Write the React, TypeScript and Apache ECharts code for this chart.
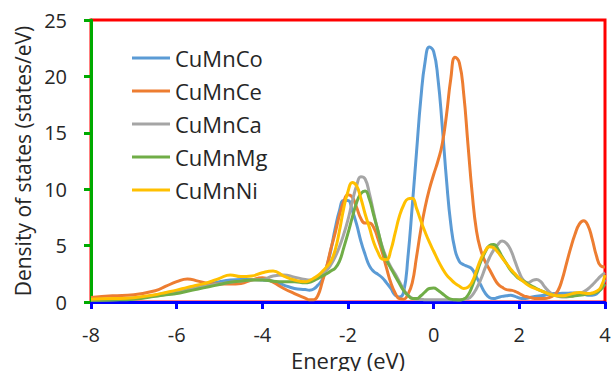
import React, { useEffect, useRef } from "react";
import * as echarts from "echarts";

const energy = [
  -8, -7.5, -7, -6.5, -6.25, -6, -5.75, -5.5, -5.25, -5, -4.75, -4.5, -4.25, -4, -3.75, -3.5, -3.25,
  -3.0, -2.9, -2.8, -2.7, -2.6, -2.5, -2.4, -2.3, -2.2, -2.1,
  -2.0, -1.9, -1.8, -1.7, -1.6, -1.5, -1.4, -1.3, -1.2, -1.1,
  -1.0, -0.9, -0.8, -0.7, -0.6, -0.5, -0.4, -0.3, -0.2, -0.1,
  0.0, 0.1, 0.2, 0.3, 0.4, 0.5, 0.6, 0.7, 0.8, 0.9,
  1.0, 1.1, 1.2, 1.3, 1.4, 1.5, 1.6, 1.7, 1.8, 1.9,
  2.0, 2.1, 2.2, 2.3, 2.4, 2.5, 2.6, 2.7, 2.8, 2.9,
  3.0, 3.1, 3.2, 3.3, 3.4, 3.5, 3.6, 3.7, 3.8, 3.9,
  4.0,
];

const dosCuMnCo = [
  0.2, 0.25, 0.35, 0.6, 0.8, 0.95, 1.15, 1.4, 1.6, 1.8, 1.95, 2.0, 2.0, 1.95, 1.85, 1.5, 1.2,
  1.1, 1.05, 1.15, 1.5, 2.0, 3.1, 4.6, 6.5, 8.1, 9.0,
  9.0, 8.1, 6.9, 5.4, 4.2, 3.2, 2.7, 2.45, 2.15, 1.7,
  1.2, 0.6, 0.45, 0.9, 4.0, 8.5, 13.3, 18.0, 21.3, 22.6,
  22.2, 19.8, 15.6, 10.8, 6.9, 4.6, 3.6, 3.3, 3.15, 2.9,
  2.2, 1.5, 0.8, 0.4, 0.3, 0.4, 0.5, 0.55, 0.6, 0.5,
  0.35, 0.3, 0.35, 0.45, 0.5, 0.55, 0.6, 0.7, 0.75, 0.75,
  0.77, 0.77, 0.8, 0.8, 0.77, 0.7, 0.6, 0.6, 0.7, 1.2,
  2.0,
];

const dosCuMnCe = [
  0.4, 0.55, 0.65, 1.0, 1.4, 1.8, 2.05, 1.85, 1.65, 1.6, 1.6, 1.65, 1.95, 2.15, 1.75, 1.2, 0.75,
  0.35, 0.2, 0.2, 0.6, 1.8, 3.1, 4.7, 6.1, 7.7, 8.9,
  9.5, 9.3, 8.4, 7.4, 7.0, 7.0, 6.6, 5.6, 4.4, 3.0,
  1.7, 0.8, 0.3, 0.25, 0.7, 1.7, 4.0, 6.4, 8.4, 10.0,
  11.3, 12.5, 14.0, 16.6, 19.8, 21.7, 21.2, 18.5, 14.0, 9.6,
  6.3, 4.6, 3.6, 2.9, 2.2, 1.6, 1.3, 1.1, 1.05, 0.95,
  0.75, 0.55, 0.45, 0.35, 0.3, 0.3, 0.3, 0.4, 0.6, 1.0,
  2.0, 3.4, 4.8, 6.0, 6.9, 7.2, 6.8, 5.6, 4.1, 3.2,
  3.1,
];

const dosCuMnCa = [
  0.15, 0.2, 0.3, 0.55, 0.7, 0.8, 1.05, 1.25, 1.45, 1.6, 1.75, 1.85, 1.95, 2.0, 2.3, 2.4, 2.2,
  2.0, 1.95, 2.0, 2.2, 2.5, 2.8, 3.3, 4.0, 4.9, 6.0,
  7.3, 8.9, 10.3, 11.1, 10.9, 9.6, 7.9, 6.3, 4.9, 3.9,
  3.1, 2.5, 1.8, 1.1, 0.6, 0.35, 0.25, 0.25, 0.2, 0.2,
  0.2, 0.2, 0.2, 0.2, 0.2, 0.2, 0.2, 0.25, 0.3, 0.6,
  1.2, 2.0, 3.0, 3.9, 4.6, 5.1, 5.4, 5.2, 4.6, 3.6,
  2.6, 1.9, 1.7, 1.9, 2.0, 1.8, 1.3, 0.9, 0.65, 0.5,
  0.45, 0.45, 0.5, 0.6, 0.75, 0.9, 1.15, 1.5, 1.9, 2.3,
  2.6,
];

const dosCuMnMg = [
  0.15, 0.18, 0.25, 0.5, 0.65, 0.75, 0.95, 1.15, 1.35, 1.55, 1.75, 1.85, 1.95, 1.95, 1.85, 1.8, 1.8,
  1.7, 1.75, 1.9, 2.1, 2.3, 2.5, 2.75, 3.0, 3.6, 4.8,
  6.1, 7.5, 8.8, 9.6, 9.85, 9.1, 7.7, 6.3, 4.8, 3.7,
  3.0, 2.3, 1.65, 1.0, 0.6, 0.3, 0.3, 0.55, 0.9, 1.2,
  1.25, 1.05, 0.75, 0.45, 0.25, 0.2, 0.18, 0.25, 0.6, 1.4,
  2.5, 3.6, 4.4, 5.0, 5.1, 4.7, 4.0, 3.4, 2.8, 2.4,
  2.05, 1.85, 1.6, 1.4, 1.2, 1.0, 0.85, 0.7, 0.6, 0.55,
  0.5, 0.5, 0.5, 0.55, 0.6, 0.65, 0.7, 0.75, 0.85, 1.1,
  1.6,
];

const dosCuMnNi = [
  0.25, 0.3, 0.38, 0.65, 0.85, 1.05, 1.3, 1.5, 1.75, 2.1, 2.4, 2.25, 2.3, 2.6, 2.75, 2.3, 1.95,
  1.8, 1.9, 2.1, 2.35, 2.7, 3.1, 3.6, 4.6, 6.3, 8.3,
  9.8, 10.6, 10.3, 9.2, 7.8, 6.6, 5.3, 4.4, 3.8, 3.75,
  4.6, 6.1, 7.6, 8.6, 9.15, 9.2, 8.3, 7.2, 6.2, 5.3,
  4.5, 3.7, 3.0, 2.4, 2.0, 1.65, 1.4, 1.2, 1.3, 1.8,
  2.8, 3.8, 4.5, 4.9, 4.8, 4.4, 3.9, 3.4, 2.9, 2.5,
  2.1, 1.8, 1.5, 1.3, 1.15, 1.0, 0.85, 0.7, 0.6, 0.55,
  0.55, 0.6, 0.7, 0.8, 0.85, 0.8, 0.75, 0.8, 0.95, 1.3,
  2.4,
];

const seriesNames = ["CuMnCo", "CuMnCe", "CuMnCa", "CuMnMg", "CuMnNi"];
const seriesValues = [dosCuMnCo, dosCuMnCe, dosCuMnCa, dosCuMnMg, dosCuMnNi];
const seriesColors = ["#5B9BD5", "#ED7D31", "#A5A5A5", "#70AD47", "#FFC000"];

const xRange = [-8, 4];
const yRange = [0, 25];

const FONT = "'Open Sans', sans-serif";
const TEXT = "#262626";

export default function App() {
  const ref = useRef<HTMLDivElement>(null);

  useEffect(() => {
    if (!ref.current) return;
    const chart = echarts.init(ref.current, undefined, { renderer: "svg" });
    const option: any = {
      animation: false,
      backgroundColor: "#ffffff",
      textStyle: { fontFamily: FONT },
      grid: {
        left: 91, right: 8, top: 20, bottom: 69,
        outerBoundsMode: "none", containLabel: false,
        show: true, borderColor: "#ff0000", borderWidth: 3, backgroundColor: "rgba(0,0,0,0)",
      },
      legend: {
        orient: "vertical", left: 127, top: 42, itemWidth: 38, itemHeight: 20, itemGap: 11,
        icon: "path://M0,9 L38,9 L38,12 L0,12 Z",
        textStyle: { fontSize: 22, color: TEXT, fontFamily: FONT, lineHeight: 20 },
        data: seriesNames,
      },
      xAxis: {
        type: "value", min: xRange[0], max: xRange[1], interval: 2,
        name: "Energy (eV)", nameLocation: "middle", nameGap: 45,
        nameTextStyle: { fontSize: 22, color: TEXT, fontFamily: FONT },
        axisLine: { show: true, onZero: false, lineStyle: { color: "#0000ff", width: 3 } },
        axisTick: { show: true, inside: false, length: 7, lineStyle: { color: "#0000ff", width: 3 } },
        axisLabel: { fontSize: 20, color: TEXT, margin: 22, fontFamily: FONT },
        splitLine: { show: false },
      },
      yAxis: {
        type: "value", min: yRange[0], max: yRange[1], interval: 5,
        name: "Density of states (states/eV)", nameLocation: "middle", nameGap: 46,
        nameTextStyle: { fontSize: 21, color: TEXT, fontFamily: FONT },
        axisLine: { show: true, onZero: false, lineStyle: { color: "#00aa00", width: 3 } },
        axisTick: { show: true, inside: false, length: 7, lineStyle: { color: "#00aa00", width: 3 } },
        axisLabel: { fontSize: 20, color: TEXT, margin: 24, fontFamily: FONT },
        splitLine: { show: false },
      },
      series: seriesNames.map((name, i) => ({
        name, type: "line", smooth: 0.5, showSymbol: false, symbol: "none",
        color: seriesColors[i],
        lineStyle: { width: 3, color: seriesColors[i] },
        data: energy.map((e, j) => [e, seriesValues[i][j]]),
      })),
    };
    chart.setOption(option);
    return () => chart.dispose();
  }, []);

  return (
    <div ref={ref} style={{ position: "fixed", left: 0, top: 0, width: 613, height: 371, background: "#fff" }} />
  );
}
